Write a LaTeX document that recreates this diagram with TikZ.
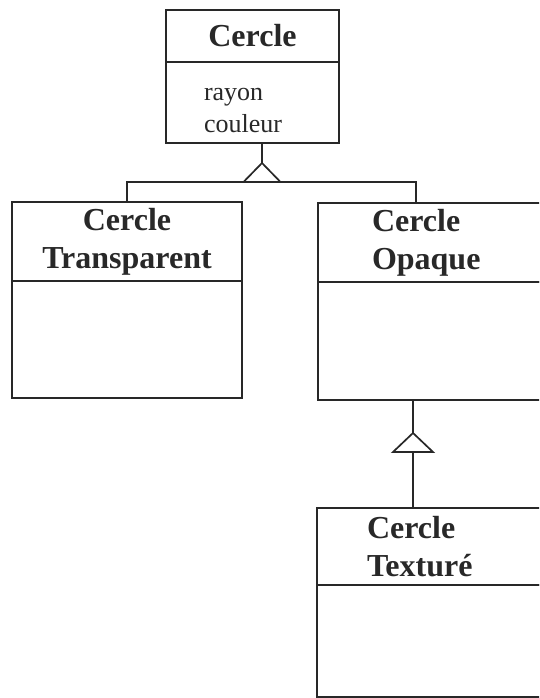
\documentclass[tikz,border=0pt]{standalone}
\usepackage{fontspec}
\setmainfont{Liberation Serif}
\definecolor{linegrey}{RGB}{40, 40, 40}
\usetikzlibrary{positioning}

\begin{document}
\begin{tikzpicture}[x=1pt, y=-1pt, line width=1.7pt, draw=linegrey, text=linegrey,
    every node/.style={inner sep=0pt, outer sep=0pt},
    head/.style={draw=linegrey, rectangle, anchor=north west, font=\fontsize{32}{38}\selectfont\bfseries, align=center},
    body/.style={draw=linegrey, rectangle},
    attr/.style={font=\fontsize{26}{32}\selectfont, align=left}]
    \useasboundingbox (0,0) rectangle (539,698);
    \clip (0,0) rectangle (539,698);

    % classes
    \node [head, minimum width=173pt, minimum height=52pt] (cercleHead) at (166,10) {Cercle};
    \node [body, minimum width=173pt, minimum height=81pt, below=0pt of cercleHead] (cercleBody) {};
    \node [attr, anchor=base west] (cercleAttr) at (204,132) {rayon\\couleur};

    \node [head, minimum width=230pt, minimum height=79pt] (tranHead) at (12,202) {Cercle\\Transparent};
    \node [body, minimum width=230pt, minimum height=117pt, below=0pt of tranHead] (tranBody) {};

    \node [head, minimum width=250pt, minimum height=79pt, inner xsep=54pt, text width=142pt, align=left] (opaqueHead) at (318,203) {Cercle\\Opaque};
    \node [body, minimum width=250pt, minimum height=118pt, below=0pt of opaqueHead] (opaqueBody) {};

    \node [head, minimum width=250pt, minimum height=77pt, inner xsep=50pt, text width=150pt, align=left] (texHead) at (317,508) {Cercle\\Textur\'e};
    \node [body, minimum width=250pt, minimum height=112pt, below=0pt of texHead] (texBody) {};

    % inheritance
    \coordinate (gen1) at (262,163);
    \coordinate (gen1base) at (262,182);
    \draw (cercleBody.south -| gen1) -- (gen1);
    \draw (gen1) -- ++(-18.5,19) -- ++(37,0) -- cycle;
    \draw (tranHead.north) |- (gen1base) -| ([xshift=98pt]opaqueHead.north west);

    \coordinate (gen2) at (413,433);
    \draw (opaqueBody.south -| gen2) -- (gen2);
    \draw (gen2) -- ++(-20,19) -- ++(40,0) -- cycle;
    \draw ([yshift=-19pt]gen2) -- (texHead.north west -| gen2);
\end{tikzpicture}
\end{document}
